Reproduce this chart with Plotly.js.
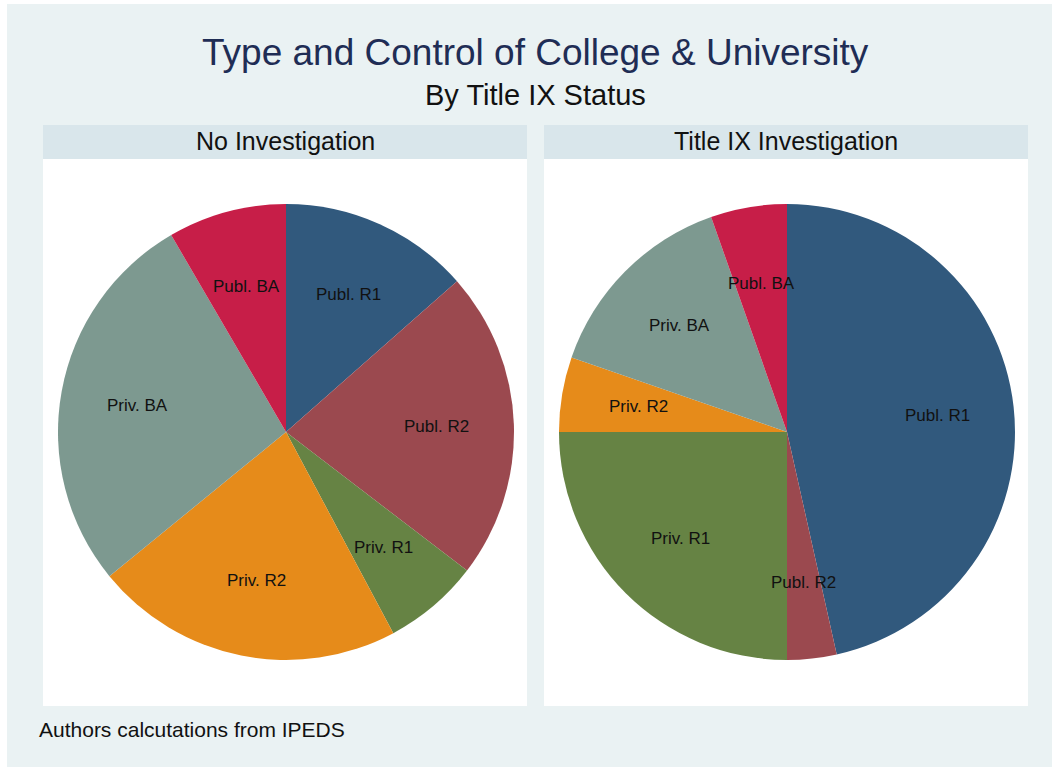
<!DOCTYPE html>
<html>
<head>
<meta charset="utf-8">
<script src="https://cdn.plot.ly/plotly-3.0.1.min.js"></script>
<style>html,body{margin:0;padding:0;background:#fff;}#chart{width:1052px;height:767px;}</style>
</head>
<body>
<div id="chart"></div>
<script>
// ---- data ----
const categories = ['Publ. R1', 'Publ. R2', 'Priv. R1', 'Priv. R2', 'Priv. BA', 'Publ. BA'];
const noInvestigation = [13.5, 21.9, 6.8, 21.9, 27.5, 8.4];
const titleIXInvestigation = [46.5, 3.5, 25.0, 5.3, 14.3, 5.4];
const panelTitles = ['No Investigation', 'Title IX Investigation'];
const sliceColors = ['#31597d', '#9b494f', '#668344', '#e68b1a', '#7d9990', '#c71e48'];

// ---- layout geometry (pixels) ----
const W = 1052, H = 767;
const R = 228;
const centers = [[286, 432], [787, 432]];
const labelR = 151;
const FONT = 'Liberation Sans, Arial, Helvetica, sans-serif';

const px = x => x / W;
const py = y => 1 - y / H;

const seriesList = [noInvestigation, titleIXInvestigation];

const traces = seriesList.map((vals, i) => {
  const [cx, cy] = centers[i];
  return {
    type: 'pie',
    labels: categories,
    values: vals,
    sort: false,
    direction: 'clockwise',
    rotation: 0,
    textinfo: 'none',
    hoverinfo: 'label+percent',
    marker: {colors: sliceColors, line: {width: 0}},
    domain: {x: [px(cx - R), px(cx + R)], y: [py(cy + R), py(cy - R)]},
    showlegend: false
  };
});

const annotations = [];
// slice labels computed from the data
seriesList.forEach((vals, i) => {
  const [cx, cy] = centers[i];
  const total = vals.reduce((a, b) => a + b, 0);
  let cum = 0;
  vals.forEach((v, k) => {
    const mid = (cum + v / 2) / total * 2 * Math.PI;
    cum += v;
    const lx = cx + labelR * Math.sin(mid);
    const ly = cy - labelR * Math.cos(mid);
    annotations.push({
      xref: 'paper', yref: 'paper', x: px(lx), y: py(ly),
      xanchor: 'center', yanchor: 'middle', showarrow: false,
      text: categories[k], font: {family: FONT, size: 17, color: '#111'}
    });
  });
});

// panel titles
const panelCenters = [285, 786];
panelTitles.forEach((t, i) => {
  annotations.push({
    xref: 'paper', yref: 'paper', x: px(panelCenters[i]), y: py(141),
    xanchor: 'center', yanchor: 'middle', showarrow: false,
    text: t, font: {family: FONT, size: 25, color: '#111'}
  });
});

annotations.push({
  xref: 'paper', yref: 'paper', x: px(535.5), y: py(52),
  xanchor: 'center', yanchor: 'middle', showarrow: false,
  text: 'Type and Control of College &amp; University',
  font: {family: FONT, size: 37, color: '#1f2d55'}
});
annotations.push({
  xref: 'paper', yref: 'paper', x: px(535.5), y: py(95),
  xanchor: 'center', yanchor: 'middle', showarrow: false,
  text: 'By Title IX Status',
  font: {family: FONT, size: 29, color: '#111'}
});
annotations.push({
  xref: 'paper', yref: 'paper', x: px(37), y: py(729),
  xanchor: 'left', yanchor: 'middle', showarrow: false,
  text: 'Authors calcutations from IPEDS',
  font: {family: FONT, size: 21, color: '#111'}
});

const rect = (x0, y0, x1, y1, color) => ({
  type: 'rect', xref: 'paper', yref: 'paper', layer: 'below',
  x0: px(x0), x1: px(x1), y0: py(y1), y1: py(y0),
  fillcolor: color, line: {width: 0}
});

const shapes = [
  rect(7, 4, W, H, '#eaf2f3'),
  rect(43, 125, 527, 159, '#d9e6eb'),
  rect(544, 125, 1028, 159, '#d9e6eb'),
  rect(43, 159, 527, 706, '#ffffff'),
  rect(544, 159, 1028, 706, '#ffffff')
];

const layout = {
  width: W, height: H,
  margin: {l: 0, r: 0, t: 0, b: 0, pad: 0},
  paper_bgcolor: '#ffffff',
  showlegend: false,
  shapes: shapes,
  annotations: annotations
};

Plotly.newPlot('chart', traces, layout, {displayModeBar: false, staticPlot: true});
</script>
</body>
</html>
